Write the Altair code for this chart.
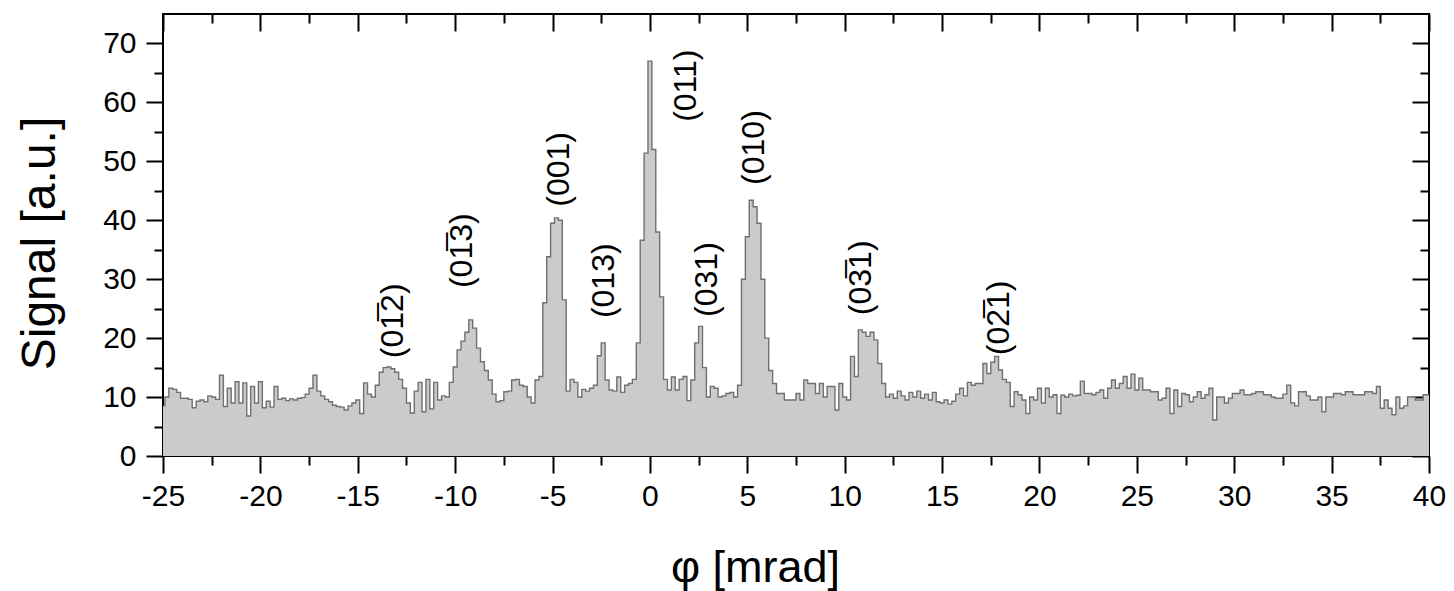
import altair as alt
import pandas as pd

FONT = "Liberation Sans"
BIN = 0.2  # mrad, width of one signal bin

# Signal: one row per mrad, 5 bins of 0.2 mrad each (start key = phi of first bin)
signal_by_mrad = {
    -25: [8.5, 10.0, 11.5, 11.3, 10.8],
    -24: [9.8, 9.8, 9.6, 8.2, 9.3],
    -23: [9.5, 9.2, 10.2, 10.0, 9.6],
    -22: [13.7, 8.4, 11.5, 9.0, 12.6],
    -21: [9.0, 12.4, 6.8, 11.8, 9.0],
    -20: [12.6, 8.2, 9.3, 8.3, 11.8],
    -19: [9.6, 9.8, 9.4, 9.7, 9.5],
    -18: [9.8, 9.9, 10.5, 11.5, 13.7],
    -17: [11.0, 10.2, 9.6, 9.2, 8.6],
    -16: [8.4, 8.3, 7.8, 8.5, 9.0],
    -15: [9.5, 7.2, 12.4, 10.5, 10.0],
    -14: [12.0, 14.2, 15.0, 15.1, 14.8],
    -13: [14.2, 13.0, 11.5, 9.0, 7.3],
    -12: [11.0, 12.5, 7.5, 13.0, 8.0],
    -11: [12.5, 9.5, 10.2, 10.0, 12.5],
    -10: [15.1, 18.0, 19.5, 21.0, 23.1],
    -9: [21.7, 18.3, 16.0, 14.5, 12.9],
    -8: [10.5, 9.2, 9.4, 10.9, 11.0],
    -7: [12.9, 13.0, 12.0, 11.8, 10.0],
    -6: [9.0, 12.9, 13.5, 26.0, 33.8],
    -5: [39.5, 40.4, 40.0, 26.5, 11.0],
    -4: [13.0, 12.5, 10.0, 11.3, 11.0],
    -3: [11.5, 12.0, 17.0, 19.2, 12.9],
    -2: [11.2, 11.0, 13.4, 10.8, 12.0],
    -1: [12.3, 13.0, 19.2, 36.6, 51.4],
    0: [67.0, 52.0, 38.0, 27.0, 13.0],
    1: [11.2, 13.4, 11.2, 13.0, 13.5],
    2: [9.4, 12.9, 19.2, 22.0, 15.0],
    3: [10.0, 11.8, 11.5, 10.0, 10.2],
    4: [10.6, 10.8, 10.0, 12.0, 30.0],
    5: [37.2, 43.4, 42.3, 39.5, 30.0],
    6: [20.0, 14.5, 12.3, 10.6, 10.6],
    7: [9.5, 9.5, 9.5, 10.6, 9.5],
    8: [12.9, 12.3, 12.3, 10.6, 12.3],
    9: [10.0, 11.8, 11.8, 7.8, 12.3],
    10: [10.0, 9.5, 16.9, 13.5, 21.4],
    11: [21.0, 20.3, 21.0, 19.7, 15.7],
    12: [12.3, 10.0, 10.5, 9.8, 11.0],
    13: [10.2, 9.5, 10.8, 10.0, 11.0],
    14: [9.8, 10.5, 9.5, 10.8, 9.2],
    15: [9.0, 9.5, 8.8, 9.3, 10.5],
    16: [11.5, 10.2, 12.5, 12.0, 12.3],
    17: [12.3, 15.7, 14.0, 15.9, 16.9],
    18: [14.6, 13.0, 12.5, 8.4, 10.9],
    19: [10.4, 9.5, 7.2, 10.0, 9.5],
    20: [11.5, 9.0, 11.5, 10.0, 10.4],
    21: [7.2, 10.3, 10.0, 10.5, 10.2],
    22: [10.3, 12.7, 10.6, 10.6, 10.4],
    23: [10.8, 11.2, 9.8, 11.5, 12.9],
    24: [11.5, 12.3, 13.5, 11.5, 13.9],
    25: [11.2, 13.2, 11.2, 11.2, 10.9],
    26: [10.9, 9.5, 9.8, 11.5, 7.2],
    27: [11.2, 8.4, 10.6, 10.4, 9.2],
    28: [10.0, 10.9, 9.8, 10.4, 11.5],
    29: [6.1, 10.0, 10.0, 9.0, 9.8],
    30: [10.6, 10.6, 11.2, 10.4, 10.4],
    31: [10.6, 10.9, 10.9, 10.4, 10.4],
    32: [10.0, 9.8, 9.8, 10.5, 12.0],
    33: [9.0, 8.5, 10.9, 10.9, 10.2],
    34: [9.5, 9.5, 10.0, 7.5, 10.0],
    35: [10.0, 10.6, 10.6, 10.4, 10.9],
    36: [10.9, 10.4, 10.4, 10.4, 10.9],
    37: [10.9, 10.6, 11.8, 8.1, 9.5],
    38: [8.1, 7.0, 10.0, 8.1, 8.5],
    39: [10.0, 10.0, 9.5, 9.5, 10.4],
    40: [10.4],
}

peak_labels = ["(01\u03052)", "(01\u03053)", "(001)", "(013)", "(011)",
               "(031)", "(010)", "(03\u03051)", "(02\u03051)"]
label_phi = [-13.2, -9.65, -4.68, -2.38, 1.87, 2.94, 5.35, 10.82, 17.9]
label_signal = [16.6, 28.5, 42.3, 23.4, 56.7, 23.6, 46.0, 23.9, 17.1]

x_ticks = [-25, -22.5, -20, -17.5, -15, -12.5, -10, -7.5, -5, -2.5, 0, 2.5, 5,
           7.5, 10, 12.5, 15, 17.5, 20, 22.5, 25, 27.5, 30, 32.5, 35, 37.5, 40]
y_ticks = [0, 5, 10, 15, 20, 25, 30, 35, 40, 45, 50, 55, 60, 65, 70]

phi, signal = [], []
for start in sorted(signal_by_mrad):
    for k, v in enumerate(signal_by_mrad[start]):
        phi.append(round(start + BIN * k, 2))
        signal.append(v)
df = pd.DataFrame({"phi": phi, "signal": signal})
lab = pd.DataFrame({"lx": label_phi, "ly": label_signal, "text": peak_labels})

W, H = 1266, 442
MAJ, MIN = 17, 9
xs = alt.Scale(domain=[-25, 40], nice=False, zero=False)
ys = alt.Scale(domain=[0, 75], nice=False, zero=False)

x_minor = "datum.value % 5 !== 0"
y_minor = "datum.value % 10 !== 0"

x_bottom = alt.Axis(
    values=x_ticks, labelExpr="datum.value % 5 === 0 ? '' + datum.value : ''",
    tickSize={"condition": {"test": x_minor, "value": MIN}, "value": MAJ},
    labelPadding=8, domain=False, grid=False, labelFlush=False,
    title="\u03c6 [mrad]", titleFontSize=45, titleX=592, titleY=125,
    titleBaseline="alphabetic", titleAlign="center", titleFontWeight="normal",
)
y_left = alt.Axis(
    values=y_ticks, labelExpr="datum.value % 10 === 0 ? '' + datum.value : ''",
    tickSize={"condition": {"test": y_minor, "value": MIN}, "value": MAJ},
    labelPadding=10, domain=False, grid=False, labelFlush=False,
    title="Signal [a.u.]", titleFontSize=48, titleX=-123, titleY=229,
    titleAngle=270, titleBaseline="middle", titleAlign="center",
    titleFontWeight="normal",
)
x_top = alt.Axis(
    orient="top", values=x_ticks, labels=False, domain=False, grid=False,
    title=None, offset=-MAJ, tickSize=MAJ,
    tickDash={"condition": {"test": x_minor, "value": [0, MAJ - MIN, MIN, 40]},
              "value": [40, 0]},
)
y_right = alt.Axis(
    orient="right", values=y_ticks, labels=False, domain=False, grid=False,
    title=None, offset=-MAJ, tickSize=MAJ,
    tickDash={"condition": {"test": y_minor, "value": [0, MAJ - MIN, MIN, 40]},
              "value": [40, 0]},
)

area = alt.Chart(df).mark_area(
    interpolate="step", color="#cbcbcb", opacity=1, clip=True,
    line={"color": "#707070", "strokeWidth": 1.4},
).encode(
    x=alt.X("phi:Q", scale=xs, axis=x_bottom),
    y=alt.Y("signal:Q", scale=ys, axis=y_left),
)

frame_ticks = alt.Chart(df).mark_line(opacity=0).encode(
    x=alt.X("phi:Q", scale=xs, axis=x_top),
    y=alt.Y("signal:Q", scale=ys, axis=y_right),
)

labels = alt.Chart(lab).mark_text(
    angle=270, align="left", baseline="middle", fontSize=32, font=FONT,
    color="black",
).encode(
    x=alt.X("lx:Q", scale=xs, axis=None),
    y=alt.Y("ly:Q", scale=ys, axis=None),
    text="text:N",
)

chart = alt.layer(area, frame_ticks, labels).resolve_axis(
    x="independent", y="independent"
).properties(
    width=W, height=H,
    autosize=alt.AutoSizeParams(type="none"),
    padding={"left": 155, "top": 6, "right": 17, "bottom": 135},
).configure_view(
    stroke="black", strokeWidth=2
).configure_axis(
    labelFont=FONT, titleFont=FONT, labelFontSize=30, labelColor="black",
    titleColor="black", tickColor="black", tickWidth=2,
)

chart.save("out.html", embed_options={"renderer": "svg", "actions": False})
